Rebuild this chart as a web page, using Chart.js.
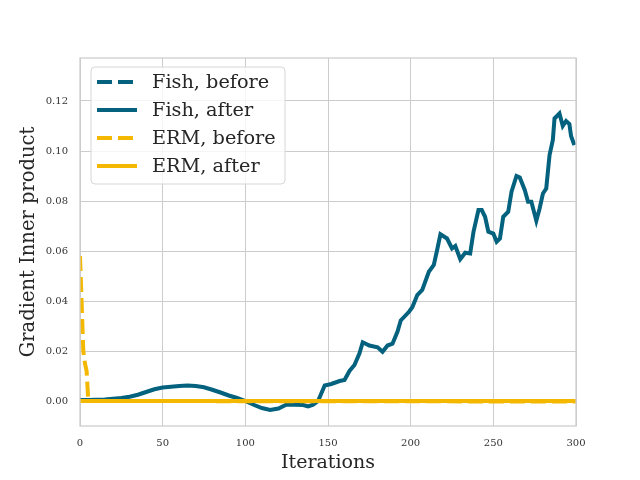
<!DOCTYPE html>
<html>
<head>
<meta charset="utf-8">
<script src="https://cdn.jsdelivr.net/npm/chart.js@4.4.0/dist/chart.umd.min.js"></script>
<style>
  html, body { margin: 0; padding: 0; background: #fff; }
  #wrap { width: 640px; height: 480px; }
</style>
</head>
<body>
<div id="wrap"><canvas id="c" width="640" height="480"></canvas></div>
<script>
// values
const fishIter = [0, 5, 10, 15, 20, 25, 30, 35, 40, 45, 50, 55, 60, 65, 70, 75, 80, 85, 90, 95,
  100, 105, 110, 115, 120, 125, 130, 135, 138, 141, 144, 148, 152, 157, 160, 163, 166, 169, 171,
  175, 180, 183, 186, 189, 192, 194, 199, 201, 204, 207, 211, 214, 216, 218, 222, 225, 227, 230,
  233, 236, 238, 241, 243, 245, 247, 250, 252, 254, 256, 259, 261, 264, 266, 269, 271, 273, 276,
  278, 280, 282, 284, 286, 287, 290, 292, 294, 296, 297, 299];
const fishAfter = [0.0004, 0.0004, 0.0005, 0.0006, 0.0009, 0.0012, 0.0017, 0.0025, 0.0036, 0.0047,
  0.0054, 0.0057, 0.006, 0.0062, 0.006, 0.0055, 0.0045, 0.0034, 0.0022, 0.0012,
  0.0, -0.0015, -0.0028, -0.0036, -0.003, -0.0014, -0.0015, -0.0016, -0.0022, -0.0015, 0.0,
  0.0062, 0.0068, 0.008, 0.0084, 0.012, 0.0144, 0.019, 0.0235,
  0.0222, 0.0215, 0.0197, 0.0222, 0.0229, 0.0277, 0.0322, 0.0357, 0.0375, 0.0424, 0.0444,
  0.0517, 0.0544, 0.0604, 0.0667, 0.065, 0.061, 0.062, 0.0567,
  0.0593, 0.059, 0.0677, 0.0764, 0.0764, 0.0737, 0.0677, 0.067, 0.0637, 0.065, 0.0737, 0.0757,
  0.0837, 0.09, 0.0894, 0.0844, 0.0797, 0.0797, 0.0721,
  0.077, 0.083, 0.085, 0.0984, 0.1044, 0.113, 0.115, 0.11, 0.112, 0.1108, 0.106, 0.1024];
const fishBeforeIter = [0, 50, 100, 150, 200, 250, 300];
const fishBefore = [0, 0, 0, 0, 0, 0, 0];
const ermBeforeIter = [0, 2, 3, 4, 5, 300];
const ermBefore = [0.058, 0.02, 0.015, 0.012, 0.0, -0.0002];
const ermAfterIter = [0, 300];
const ermAfter = [0, 0];
const xTicks = [0, 50, 100, 150, 200, 250, 300];
const yTicks = [0, 0.02, 0.04, 0.06, 0.08, 0.10, 0.12];

const TEAL = '#05627f';
const GOLD = '#f5b800';
const SERIF = "'DejaVu Serif', serif";

const pts = (xs, ys) => xs.map((x, i) => ({ x: x, y: ys[i] }));

// later series go on top, as in the reference
function line(label, data, color, dash, order) {
  return {
    label: label,
    data: data,
    borderColor: color,
    backgroundColor: color,
    borderWidth: 4,
    borderDash: dash,
    pointRadius: 0,
    tension: 0,
    fill: false,
    order: order,
  };
}

// grey frame round the plot, like the seaborn whitegrid style
const frame = {
  id: 'frame',
  afterDatasetsDraw(chart) {
    const { ctx, chartArea: a } = chart;
    ctx.save();
    ctx.strokeStyle = '#cccccc';
    ctx.lineWidth = 1.25;
    ctx.strokeRect(a.left, a.top, a.right - a.left, a.bottom - a.top);
    ctx.restore();
  },
};

// legend box drawn inside the plot, upper left
const boxLegend = {
  id: 'boxLegend',
  afterDraw(chart) {
    const ctx = chart.ctx;
    const x0 = 91, y0 = 67, w = 194, h = 117;
    ctx.save();
    ctx.beginPath();
    ctx.roundRect(x0, y0, w, h, 4);
    ctx.fillStyle = 'rgba(255,255,255,0.8)';
    ctx.fill();
    ctx.strokeStyle = '#d6d6d6';
    ctx.lineWidth = 1;
    ctx.stroke();
    chart.data.datasets.forEach((ds, i) => {
      const y = 82 + i * 28;
      ctx.beginPath();
      ctx.setLineDash(ds.borderDash || []);
      ctx.strokeStyle = ds.borderColor;
      ctx.lineWidth = 4;
      ctx.moveTo(97, y);
      ctx.lineTo(137, y);
      ctx.stroke();
      ctx.setLineDash([]);
      ctx.fillStyle = '#262626';
      ctx.font = '19.3px ' + SERIF;
      ctx.textBaseline = 'middle';
      ctx.fillText(ds.label, 152, y + 1);
    });
    ctx.restore();
  },
};

new Chart(document.getElementById('c'), {
  type: 'line',
  data: {
    datasets: [
      line('Fish, before', pts(fishBeforeIter, fishBefore), TEAL, [15, 6], 4),
      line('Fish, after', pts(fishIter, fishAfter), TEAL, [], 3),
      line('ERM, before', pts(ermBeforeIter, ermBefore), GOLD, [15, 6], 2),
      line('ERM, after', pts(ermAfterIter, ermAfter), GOLD, [], 1),
    ],
  },
  options: {
    responsive: false,
    animation: false,
    devicePixelRatio: 1,
    layout: { padding: { top: 58, right: 64, left: 0, bottom: 0 } },
    plugins: { legend: { display: false }, tooltip: { enabled: false } },
    scales: {
      x: {
        type: 'linear',
        min: 0,
        max: 300,
        afterBuildTicks: (s) => { s.ticks = xTicks.map((v) => ({ value: v })); },
        afterFit: (s) => { s.height = 54; },
        grid: { color: '#cccccc', lineWidth: 1, drawTicks: false },
        border: { display: false },
        ticks: { padding: 11, color: '#333', font: { family: SERIF, size: 10 }, maxRotation: 0 },
        title: {
          display: true,
          text: 'Iterations',
          color: '#262626',
          font: { family: SERIF, size: 19 },
          padding: { top: 0, bottom: 6 },
        },
      },
      y: {
        min: -0.01,
        max: 0.1372,
        afterBuildTicks: (s) => { s.ticks = yTicks.map((v) => ({ value: v })); },
        afterFit: (s) => { s.width = 80; },
        grid: { color: '#cccccc', lineWidth: 1, drawTicks: false },
        border: { display: false },
        ticks: {
          padding: 12,
          color: '#333',
          font: { family: SERIF, size: 10 },
          callback: (v) => v.toFixed(2),
        },
        title: {
          display: true,
          text: 'Gradient Inner product',
          color: '#262626',
          font: { family: SERIF, size: 19.5 },
          padding: { top: 17, bottom: 0 },
        },
      },
    },
  },
  plugins: [frame, boxLegend],
});
</script>
</body>
</html>
